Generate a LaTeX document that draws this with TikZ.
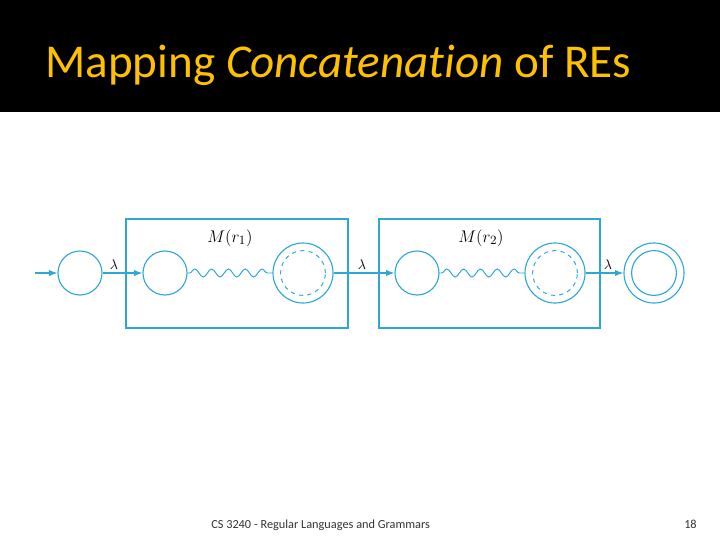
\documentclass[tikz,border=0pt]{standalone}
\usepackage{fontspec}
\setmainfont[Ligatures=NoCommon]{Carlito}
\usetikzlibrary{arrows.meta,decorations.pathmorphing}
\definecolor{fsa}{RGB}{45,168,214}
\definecolor{gold}{RGB}{255,192,0}
\begin{document}
\begin{tikzpicture}[x=0.025cm, y=-0.025cm, every node/.style={font=\small},
  st/.style={draw=fsa, line width=0.8pt, circle, minimum size=1.1cm, inner sep=0pt},
  fin/.style={draw=fsa, line width=0.8pt, circle, minimum size=1.5cm, inner sep=0pt},
  box/.style={draw=fsa, line width=0.8pt},
  edge/.style={draw=fsa, line width=0.8pt, -{Latex[length=6pt,width=4.5pt]}},
  wave/.style={draw=fsa, line width=0.7pt, decorate, decoration={snake, segment length=0.42cm, amplitude=0.1cm, pre length=0.05cm, post length=0.05cm}},
  lam/.style={font=\fontsize{10}{12}\selectfont, inner sep=0pt},
  mach/.style={font=\fontsize{13}{15}\selectfont}]
  \useasboundingbox (0,0) rectangle (720,540);
  \fill[black] (0,0) rectangle (720,112);
  \node[anchor=base west, text=gold, font=\fontsize{33.5}{40}\selectfont, inner sep=0pt] (title) at (45,77)
    {Mapping \textit{Concatenation} of REs};
  % the two machines
  \draw[box] (126,219) rectangle (348,328);
  \draw[box] (379,219) rectangle (600,328);
  \node[mach] (m1) at (230,238) {$M(r_1)$};
  \node[mach] (m2) at (481,238) {$M(r_2)$};
  % states
  \node[st] (q0) at (80,273) {};
  \node[st] (q1) at (165,273) {};
  \node[fin] (q2) at (303,273) {};
  \node[st] (q3) at (417,273) {};
  \node[fin] (q4) at (555,273) {};
  \node[fin] (q5) at (654,273) {};
  \draw[fsa, line width=0.7pt, dashed] (q2.center) circle (0.56cm);
  \draw[fsa, line width=0.7pt, dashed] (q4.center) circle (0.56cm);
  \draw[fsa, line width=0.8pt] (q5.center) circle (0.56cm);
  % transitions
  \coordinate (in) at (35,273);
  \draw[edge] (in) -- (q0);
  \draw[edge] (q0) -- (q1);
  \draw[wave] (q1.east) -- (q2.west);
  \draw[edge] (q2) -- (q3);
  \draw[wave] (q3.east) -- (q4.west);
  \draw[edge] (q4) -- (q5);
  \node[lam] (l1) at (114,265) {$\lambda$};
  \node[lam] (l2) at (362,265) {$\lambda$};
  \node[lam] (l3) at (608,265) {$\lambda$};
  % footer
  \node[font=\fontsize{8.75}{10}\selectfont, text=black!80, anchor=base west, inner sep=0pt] (foot) at (211,528)
    {CS 3240 - Regular Languages and Grammars};
  \node[font=\fontsize{8.75}{10}\selectfont, text=black!80, anchor=base east, inner sep=0pt] (pg) at (697,528) {18};
\end{tikzpicture}
\end{document}
